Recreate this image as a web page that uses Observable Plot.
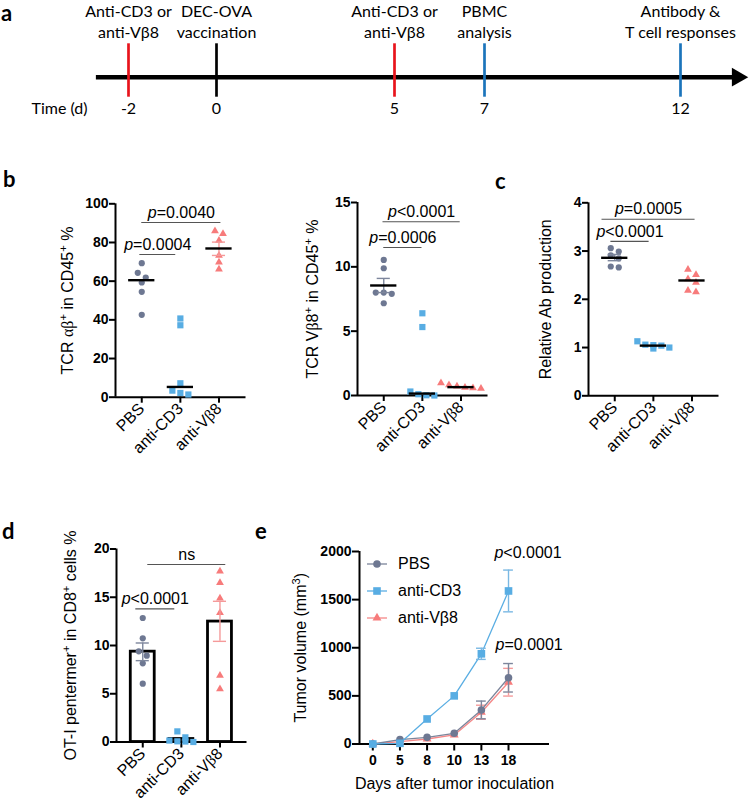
<!DOCTYPE html>
<html><head><meta charset="utf-8">
<script src="https://cdn.jsdelivr.net/npm/d3@7"></script>
<script src="https://cdn.jsdelivr.net/npm/@observablehq/plot@0.6"></script>
<style>
body{margin:0;background:#fff;}
#fig{position:relative;width:749px;height:803px;overflow:hidden;background:#fff;font-family:"Liberation Sans",Arial,sans-serif;}
.panel{position:absolute;}
.plbl{position:absolute;font-family:Lato,"Open Sans",sans-serif;font-weight:bold;font-size:22px;line-height:22px;}
.boldY g[aria-label="y-axis tick label"] text{font-weight:bold;font-size:14px;}
.boldX g[aria-label="x-axis tick label"] text{font-weight:bold;font-size:14px;}
.catX g[aria-label="x-axis tick label"] text{font-size:16px;}
.axes g[aria-label^="x-axis"] path,.axes g[aria-label^="y-axis"] path{stroke-width:2px;}
.legend{position:absolute;font-size:16px;}
.legend .row{display:flex;align-items:center;height:27px;}
.legend svg{margin-right:10px;}
</style></head><body><div id="fig"></div>
<script>
// ---------- shared categories ----------
const GROUPS = ["PBS", "anti-CD3", "anti-Vβ8"];
const COLORS = ["#6e7892", "#58ade3", "#f77b7b"];
const ERRCOLORS = ["#7d869c", "#7ab8e3", "#f59a9a"];
const SYMBOLS = ["circle", "square", "triangle"];

// ---------- panel a: timeline ----------
const eventDays = [-2, 0, 5, 7, 12];
const eventTickLabels = ["-2", "0", "5", "7", "12"];
const eventLabels = ["Anti-CD3 or\nanti-Vβ8", "DEC-OVA\nvaccination", "Anti-CD3 or\nanti-Vβ8", "PBMC\nanalysis", "Antibody &\nT cell responses"];
const eventColors = ["#e8141c", "#000000", "#e8141c", "#1b74bb", "#1b74bb"];
const timelineStart = -2.73, timelineEnd = 13.45;

// ---------- panel b (left): TCR αβ+ in CD45+ % ----------
const tcrAB = [
  [69.3, 64.3, 61.9, 59.3, 54.5, 42.6],
  [40.7, 37.2, 7.2, 3.4, 2.2, 1.4],
  [85.9, 84.5, 81.0, 73.3, 69.8, 66.2]
];
const tcrABCenter = [60.5, 5.3, 76.9];
const tcrABErrLow = [null, null, 73.3];
const tcrABErrHigh = [null, null, 80.2];
const tcrABBracketY = [73.8, 90.3];
const tcrABBracketX1 = [-0.05, 0];
const tcrABBracketX2 = [0.88, 2.05];
const tcrABBracketLabel = ["p=0.0004", "p=0.0040"];

// ---------- panel b (right): TCR Vβ8+ in CD45+ % ----------
const tcrVb8 = [
  [10.54, 9.89, 8.0, 8.0, 7.9, 7.17],
  [6.39, 5.32, 0.31, 0.1, 0.02, 0.0],
  [0.97, 0.81, 0.72, 0.62, 0.58, 0.55]
];
const tcrVb8Center = [8.55, 0.15, 0.65];
const tcrVb8ErrLow = [8.0, null, null];
const tcrVb8ErrHigh = [9.1, null, null];
const tcrVb8BracketY = [11.5, 13.5];
const tcrVb8BracketX1 = [0, -0.02];
const tcrVb8BracketX2 = [0.99, 1.98];
const tcrVb8BracketLabel = ["p=0.0006", "p<0.0001"];

// ---------- panel c: relative Ab production ----------
const abProd = [
  [3.06, 2.99, 2.91, 2.85, 2.68, 2.66],
  [1.13, 1.06, 1.05, 1.04, 1.0, 0.98],
  [2.62, 2.51, 2.42, 2.35, 2.18, 2.15]
];
const abCenter = [2.86, 1.04, 2.39];
const abErrLow = [2.80, null, null];
const abErrHigh = [2.93, null, null];
const abBracketY = [3.2, 3.66];
const abBracketX1 = [-0.1, -0.33];
const abBracketX2 = [0.89, 2.08];
const abBracketLabel = ["p<0.0001", "p=0.0005"];

// ---------- panel d: OT-I pentermer+ in CD8+ cells % ----------
const ot1 = [
  [12.85, 10.74, 9.4, 8.95, 8.15, 6.04],
  [1.1, 0.48, 0.15, 0.07, 0.05, 0.0],
  [17.7, 16.5, 14.9, 13.4, 6.9, 5.5]
];
const ot1Mean = [9.36, 0.31, 12.48];
const ot1ErrLow = [8.43, null, 10.43];
const ot1ErrHigh = [10.26, null, 14.58];
const ot1BracketY = [13.8, 18.4];
const ot1BracketX1 = [-0.18, 0.13];
const ot1BracketX2 = [0.83, 2.15];
const ot1BracketLabel = ["p<0.0001", "ns"];

// ---------- panel e: tumor volume ----------
const days = [0, 5, 8, 10, 13, 18];
const tumorPBS = [0, 45, 69, 111, 354, 688];
const tumorPBSSem = [0, 0, 0, 0, 92, 148];
const tumorCD3 = [0, 7, 260, 500, 937, 1590];
const tumorCD3Sem = [0, 0, 0, 0, 58, 217];
const tumorVb8 = [0, 24, 52, 94, 330, 642];
const tumorVb8Sem = [0, 0, 0, 0, 73, 144];
const tumorLineColors = ["#7b849a", "#5aaee3", "#f58787"];
const tumorPLabel = ["p<0.0001", "p=0.0001"];
const tumorPX = [5.72, 5.76];
const tumorPY = [1985, 1025];

// ---------- helpers ----------
const SANS = "'Liberation Sans', Arial, sans-serif";
const fig = document.getElementById("fig");
const SVGNS = "http://www.w3.org/2000/svg";

function place(node, left, top, cls) {
  const d = document.createElement("div");
  d.className = "panel " + (cls || "");
  d.style.left = left + "px"; d.style.top = top + "px";
  d.appendChild(node); fig.appendChild(d); return d;
}
function label(txt, left, top) {
  const d = document.createElement("div");
  d.className = "plbl"; d.textContent = txt;
  d.style.left = left + "px"; d.style.top = top + "px";
  fig.appendChild(d);
}
function richify(root) {
  const walker = document.createTreeWalker(root, NodeFilter.SHOW_TEXT);
  const nodes = []; while (walker.nextNode()) nodes.push(walker.currentNode);
  for (const n of nodes) {
    const s = n.nodeValue;
    if (!/[αβ⁺³]|^p[=<]/.test(s)) continue;
    const parts = []; let rest = s;
    if (/^p[=<]/.test(rest)) { parts.push({t: "p", k: "it"}); rest = rest.slice(1); }
    for (const m of rest.matchAll(/[αβ]+|[⁺³]|[^αβ⁺³]+/g)) {
      const v = m[0];
      if (/[αβ]/.test(v)) parts.push({t: v, k: "greek"});
      else if (v === "⁺") parts.push({t: "+", k: "sup"});
      else if (v === "³") parts.push({t: "3", k: "sup"});
      else parts.push({t: v, k: "n"});
    }
    const frag = document.createDocumentFragment();
    let prevSup = false;
    for (const p of parts) {
      const ts = document.createElementNS(SVGNS, "tspan");
      ts.textContent = p.t;
      if (p.k === "it") ts.setAttribute("font-style", "italic");
      if (p.k === "greek") ts.setAttribute("font-family", "'Liberation Serif', serif");
      if (p.k === "sup") { ts.setAttribute("font-size", "0.7em"); ts.setAttribute("dy", "-0.5em"); }
      else if (prevSup) ts.setAttribute("dy", "0.35em");
      prevSup = p.k === "sup";
      frag.appendChild(ts);
    }
    n.parentNode.replaceChild(frag, n);
  }
}
// row-based scatter layout (like a column scatter plot): points closer than D px share a row
function rowOffsets(vals, pxY, D, spacing) {
  const order = d3.range(vals.length).sort((a, b) => vals[b] - vals[a]);
  const off = [];
  let i = 0;
  while (i < order.length) {
    const row = [order[i]];
    let j = i + 1;
    while (j < order.length && (vals[order[i]] - vals[order[j]]) * pxY < D) row.push(order[j++]);
    row.forEach((idx, k) => off[idx] = (k - (row.length - 1) / 2) * spacing);
    i = j;
  }
  return off;
}
function brackets(ys, x1s, x2s, labels) {
  return ys.map((y, i) => ({y, x1: x1s[i], x2: x2s[i], label: labels[i]}));
}

function scatterPanel(o) {
  const xDom = [-0.68, 2.7];
  const fw = o.width - o.ml - o.mr, fh = o.height - o.mt - o.mb;
  const pxX = fw / (xDom[1] - xDom[0]), pxY = fh / o.ymax;
  const SYMR = [3.1, 3.5, 2.9];
  const pts = o.values.flatMap((vals, gi) => {
    const off = rowOffsets(vals, pxY, 6.7, 8);
    return vals.map((v, k) => ({gi, v, x: gi + off[k] / pxX}));
  });
  const errs = o.errLow.map((lo, gi) => ({gi, lo, hi: o.errHigh[gi]})).filter(d => d.lo != null);
  const caps = errs.flatMap(d => [{gi: d.gi, y: d.lo}, {gi: d.gi, y: d.hi}]);
  const marks = [
    Plot.ruleX([xDom[0]], {stroke: "black", strokeWidth: 2}),
    Plot.ruleY([0], {stroke: "black", strokeWidth: 2})
  ];
  if (o.bars) marks.push(Plot.rect(o.bars.map((m, gi) => ({gi, m})), {x1: d => d.gi - 0.31, x2: d => d.gi + 0.31, y1: 0, y2: "m", fill: "white", stroke: "black", strokeWidth: 2.8}));
  for (let gi = 0; gi < 3; gi++) marks.push(Plot.dot(pts.filter(d => d.gi === gi), {x: "x", y: "v", symbol: SYMBOLS[gi], r: SYMR[gi], fill: COLORS[gi], stroke: "none"}));
  marks.push(Plot.ruleX(errs, {x: "gi", y1: "lo", y2: "hi", stroke: d => ERRCOLORS[d.gi], strokeWidth: 1.4}));
  marks.push(Plot.ruleY(caps, {x1: d => d.gi - 0.17, x2: d => d.gi + 0.17, y: "y", stroke: d => ERRCOLORS[d.gi], strokeWidth: 1.4}));
  if (o.centers) marks.push(Plot.ruleY(o.centers.map((c, gi) => ({gi, c})), {x1: d => d.gi - 0.34, x2: d => d.gi + 0.34, y: "c", stroke: "black", strokeWidth: 2.4}));
  marks.push(Plot.ruleY(o.brackets, {x1: "x1", x2: "x2", y: "y", stroke: "#555", strokeWidth: 1.1}));
  marks.push(Plot.text(o.brackets, {x: d => (d.x1 + d.x2) / 2, y: "y", text: "label", dy: -10, fontSize: 16}));
  marks.push(Plot.text([o.ylabel], {frameAnchor: "left", text: d => d, dx: o.labelDx, rotate: -90, textAnchor: "middle", lineAnchor: "middle", fontSize: 16}));
  const svg = Plot.plot({
    width: o.width, height: o.height,
    marginTop: o.mt, marginBottom: o.mb, marginLeft: o.ml, marginRight: o.mr,
    style: {fontFamily: SANS, fontSize: "16px", color: "black", background: "transparent", overflow: "visible"},
    x: {domain: xDom, ticks: [0, 1, 2], tickFormat: i => GROUPS[i], tickRotate: -45, tickSize: 6, tickPadding: 3, label: null},
    y: {domain: [0, o.ymax], ticks: o.yticks, tickFormat: d => String(d), tickSize: 6, tickPadding: 1, label: null},
    color: {type: "identity"},
    marks
  });
  richify(svg);
  place(svg, o.left, o.top, "boldY catX axes");
}

// ---------- draw panel a ----------
{
  const events = eventDays.map((d, i) => ({day: d, tick: eventTickLabels[i], label: eventLabels[i], color: eventColors[i]}));
  const svg = Plot.plot({
    width: 749, height: 125, margin: 0,
    style: {fontFamily: "Lato, 'Open Sans', sans-serif", fontSize: "16px", color: "black", background: "transparent", overflow: "visible"},
    x: {type: "linear", domain: eventDays, range: [128, 216, 394, 484, 680], axis: null},
    y: {domain: [-0.6, 1], range: [96.7, 43.3], axis: null},
    color: {type: "identity"},
    marks: [
      Plot.ruleY([0], {x1: timelineStart, x2: timelineEnd, stroke: "black", strokeWidth: 4.5}),
      Plot.dot([timelineEnd], {x: d => d, y: 0, symbol: "triangle", r: 7, rotate: 90, fill: "black", stroke: "none"}),
      Plot.ruleX(events, {x: "day", y1: -0.6, y2: 1, stroke: "color", strokeWidth: 2.7}),
      Plot.text(events, {x: "day", y: 1, text: "label", lineAnchor: "bottom", dy: -6, lineHeight: 1.3}),
      Plot.text(events, {x: "day", y: -0.6, text: "tick", dy: 12}),
      Plot.text(["Time (d)"], {frameAnchor: "left", y: -0.6, text: d => d, dy: 12, dx: 31, textAnchor: "start"})
    ]
  });
  place(svg, 0, 0);
}

// ---------- panels b, c, d ----------
scatterPanel({left: 0, top: 188, width: 262, height: 300, ml: 115, mr: 16.5, mt: 15.3, mb: 91.3,
  ymax: 100, yticks: [0, 20, 40, 60, 80, 100], ylabel: "TCR αβ⁺ in CD45⁺ %", labelDx: -48,
  values: tcrAB, centers: tcrABCenter, errLow: tcrABErrLow, errHigh: tcrABErrHigh,
  brackets: brackets(tcrABBracketY, tcrABBracketX1, tcrABBracketX2, tcrABBracketLabel)});
scatterPanel({left: 262, top: 188, width: 230, height: 300, ml: 95, mr: 4.5, mt: 14, mb: 93,
  ymax: 15, yticks: [0, 5, 10, 15], ylabel: "TCR Vβ8⁺ in CD45⁺ %", labelDx: -45,
  values: tcrVb8, centers: tcrVb8Center, errLow: tcrVb8ErrLow, errHigh: tcrVb8ErrHigh,
  brackets: brackets(tcrVb8BracketY, tcrVb8BracketX1, tcrVb8BracketX2, tcrVb8BracketLabel)});
scatterPanel({left: 492, top: 188, width: 257, height: 300, ml: 96, mr: 30.5, mt: 14.3, mb: 92.7,
  ymax: 4, yticks: [0, 1, 2, 3, 4], ylabel: "Relative Ab production", labelDx: -43,
  values: abProd, centers: abCenter, errLow: abErrLow, errHigh: abErrHigh,
  brackets: brackets(abBracketY, abBracketX1, abBracketX2, abBracketLabel)});
scatterPanel({left: 0, top: 530, width: 262, height: 273, ml: 116, mr: 15.5, mt: 18.5, mb: 61.5,
  ymax: 20, yticks: [0, 5, 10, 15, 20], ylabel: "OT-I pentermer⁺ in CD8⁺ cells %", labelDx: -46,
  values: ot1, bars: ot1Mean, errLow: ot1ErrLow, errHigh: ot1ErrHigh,
  brackets: brackets(ot1BracketY, ot1BracketX1, ot1BracketX2, ot1BracketLabel)});

// ---------- panel e ----------
{
  const series = [tumorPBS, tumorCD3, tumorVb8], sems = [tumorPBSSem, tumorCD3Sem, tumorVb8Sem];
  const rows = series.flatMap((vals, gi) => vals.map((v, i) => ({gi, i, v, sem: sems[gi][i]})));
  const R = [3.8, 4.3, 3.3];
  const marks = [
    Plot.ruleX([-0.49], {stroke: "black", strokeWidth: 2}),
    Plot.ruleY([0], {stroke: "black", strokeWidth: 2})
  ];
  for (const gi of [2, 0, 1]) {
    const r = rows.filter(d => d.gi === gi), e = r.filter(d => d.sem > 0);
    marks.push(Plot.line(r, {x: "i", y: "v", stroke: tumorLineColors[gi], strokeWidth: 1.3}));
    marks.push(Plot.ruleX(e, {x: "i", y1: d => d.v - d.sem, y2: d => d.v + d.sem, stroke: ERRCOLORS[gi], strokeWidth: 1.4}));
    marks.push(Plot.ruleY(e.flatMap(d => [{i: d.i, y: d.v - d.sem}, {i: d.i, y: d.v + d.sem}]), {x1: d => d.i - 0.18, x2: d => d.i + 0.18, y: "y", stroke: ERRCOLORS[gi], strokeWidth: 1.4}));
    marks.push(Plot.dot(r, {x: "i", y: "v", symbol: SYMBOLS[gi], r: R[gi], fill: COLORS[gi], stroke: "none"}));
  }
  marks.push(Plot.text(tumorPLabel.map((t, k) => ({t, x: tumorPX[k], y: tumorPY[k]})), {x: "x", y: "y", text: "t", fontSize: 16}));
  marks.push(Plot.text(["Tumor volume (mm³)"], {frameAnchor: "left", text: d => d, dx: -59, rotate: -90, textAnchor: "middle", lineAnchor: "middle", fontSize: 16}));
  marks.push(Plot.text(["Days after tumor inoculation"], {frameAnchor: "bottom", text: d => d, dy: 39.5, textAnchor: "middle", lineAnchor: "middle", fontSize: 16}));
  const svg = Plot.plot({
    width: 300, height: 273, marginTop: 21, marginBottom: 59.5, marginLeft: 99, marginRight: 11,
    style: {fontFamily: SANS, fontSize: "14px", color: "black", background: "transparent", overflow: "visible"},
    x: {domain: [-0.49, 6.51], ticks: days.map((d, i) => i), tickFormat: i => String(days[i]), tickSize: 7, tickPadding: 4, label: null},
    y: {domain: [0, 2000], ticks: [0, 500, 1000, 1500, 2000], tickFormat: d => String(d), tickSize: 7, tickPadding: 1, label: null},
    color: {type: "identity"},
    marks
  });
  richify(svg);
  place(svg, 260, 530, "boldY boldX axes");

  // legend
  const lg = document.createElement("div");
  lg.className = "legend"; lg.style.left = "366px"; lg.style.top = "550px";
  GROUPS.forEach((g, gi) => {
    const row = document.createElement("div"); row.className = "row";
    const s = d3.create("svg").attr("width", 22).attr("height", 14);
    s.append("line").attr("x1", 1).attr("x2", 21).attr("y1", 7).attr("y2", 7).attr("stroke", tumorLineColors[gi]).attr("stroke-width", 1.3);
    const sym = [d3.symbolCircle, d3.symbolSquare, d3.symbolTriangle][gi];
    s.append("path").attr("transform", "translate(11,7)").attr("d", d3.symbol(sym, Math.PI * R[gi] * R[gi])()).attr("fill", COLORS[gi]);
    row.appendChild(s.node());
    const t = document.createElement("span"); t.textContent = g; row.appendChild(t);
    lg.appendChild(row);
  });
  fig.appendChild(lg);
}

// ---------- panel letters ----------
label("a", 1, 2); label("b", 3, 168); label("c", 495, 170); label("d", 2, 520); label("e", 255, 520);
</script></body></html>
